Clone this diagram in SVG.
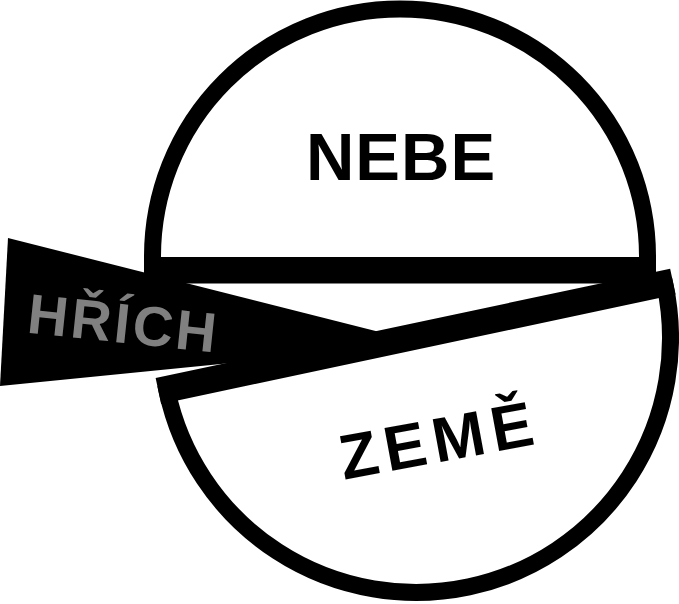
<svg xmlns="http://www.w3.org/2000/svg" width="679" height="604" viewBox="0 0 679 604">
<style>
.outline{fill:#fff;stroke:#000;stroke-width:17;stroke-linejoin:miter}
.bar{fill:#000}
.lbl{font-family:"Liberation Sans",Arial,sans-serif;font-weight:bold}
</style>
<rect width="679" height="604" fill="#fff"/>
<g id="nebe">
<path class="outline" d="M152.5 275 L152.5 256.5 A247.5 247.5 0 0 1 647.5 256.5 L647.5 275 Z"/>
<rect class="bar" x="144" y="257" width="512" height="18"/>
<text class="lbl" x="401" y="180" font-size="67" letter-spacing="1" text-anchor="middle" fill="#000">NEBE</text>
</g>
<g id="zeme" transform="translate(416,338) rotate(-12)">
<path class="outline" d="M-254.5 -6.5 L-254.5 0 A254.5 254.5 0 0 0 254.5 0 L254.5 -6.5 Z"/>
<rect class="bar" x="-263" y="-6.5" width="526" height="18"/>
</g>
<g id="zeme-label" transform="translate(440,462) rotate(-10.5)">
<text class="lbl" x="3.5" y="0" font-size="63" letter-spacing="7" text-anchor="middle" fill="#000">ZEMĚ</text>
</g>
<g id="hrich">
<polygon points="8,238 0,386 425,343.5" fill="#000"/>
<g transform="translate(30,333) rotate(6)">
<text class="lbl" x="-4" y="0" font-size="56" letter-spacing="3" fill="#808080">HŘÍCH</text>
</g>
</g>
</svg>
